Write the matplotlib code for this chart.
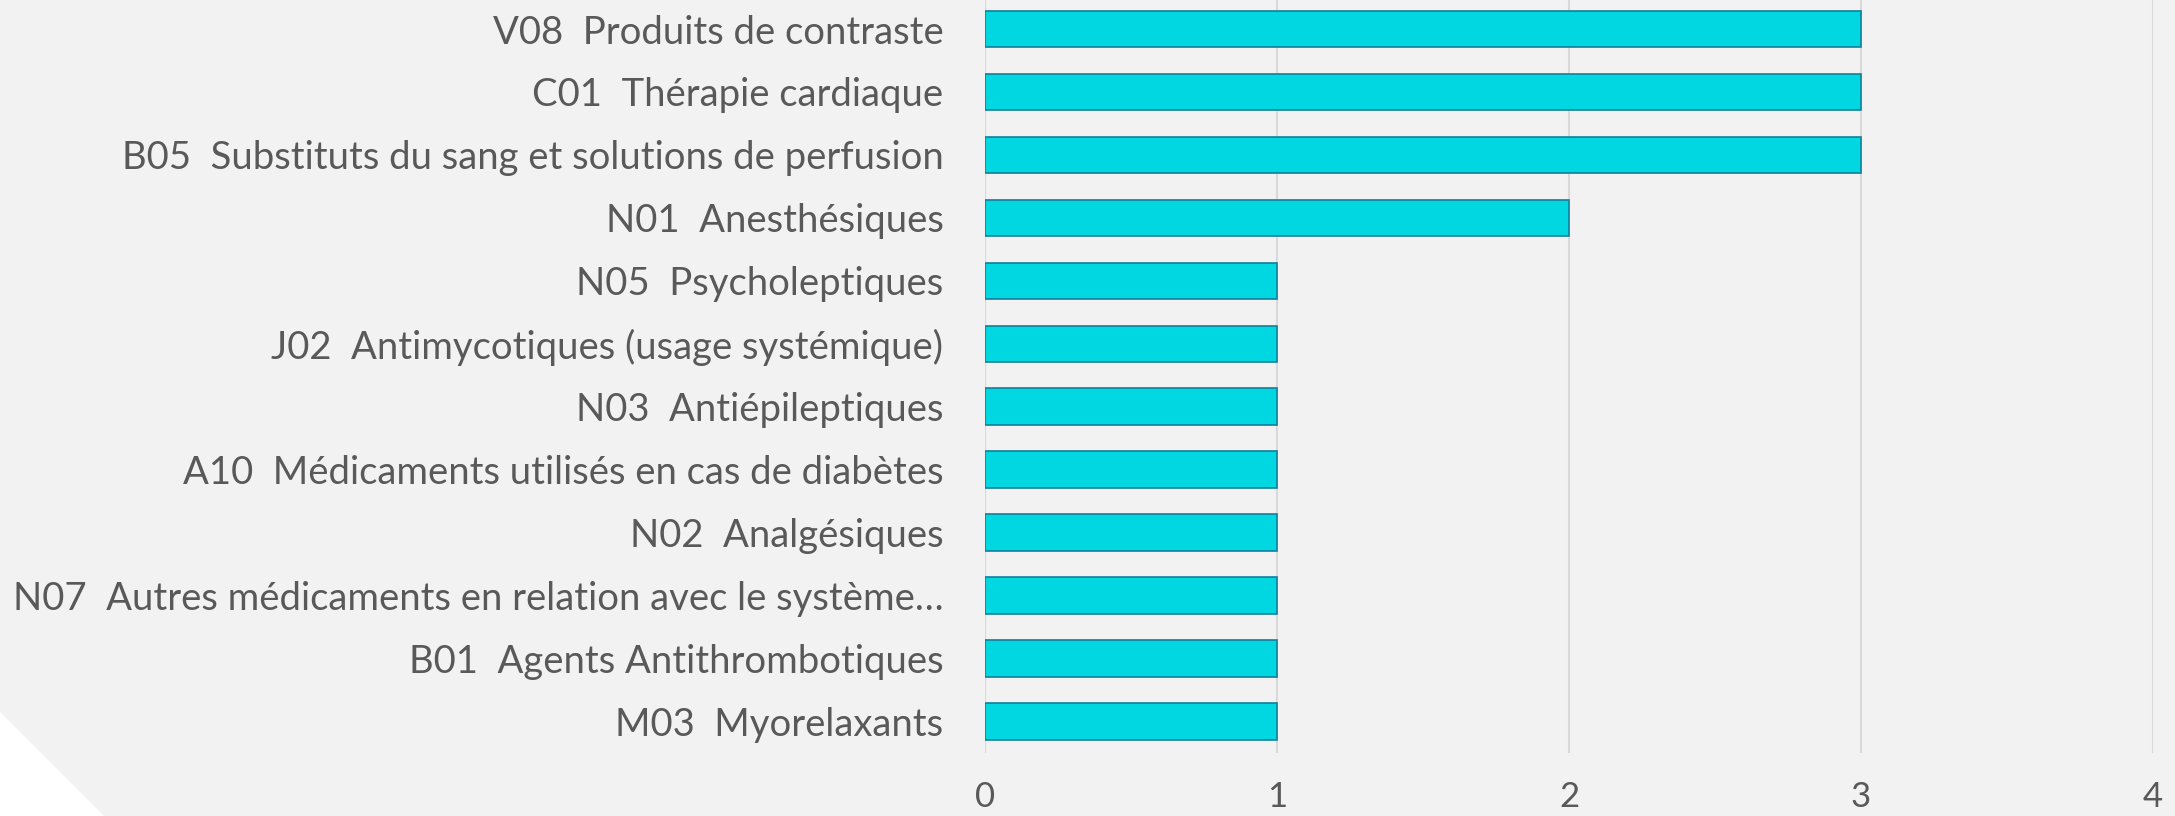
import matplotlib.pyplot as plt
from matplotlib.patches import Polygon

# ATC classes and counts (top to bottom as shown)
classes = [
    "V08  Produits de contraste",
    "C01  Thérapie cardiaque",
    "B05  Substituts du sang et solutions de perfusion",
    "N01  Anesthésiques",
    "N05  Psycholeptiques",
    "J02  Antimycotiques (usage systémique)",
    "N03  Antiépileptiques",
    "A10  Médicaments utilisés en cas de diabètes",
    "N02  Analgésiques",
    "N07  Autres médicaments en relation avec le système…",
    "B01  Agents Antithrombotiques",
    "M03  Myorelaxants",
]
counts = [3, 3, 3, 2, 1, 1, 1, 1, 1, 1, 1, 1]
x_ticks = [0, 1, 2, 3, 4]

plt.rcParams['font.family'] = ['Lato', 'DejaVu Sans']

fig = plt.figure(figsize=(21.75, 8.16), dpi=100, facecolor='#f2f2f2')

# white corner triangle, bottom left
fig.patches.append(Polygon([(0, 0), (0, 0.1275), (0.0478, 0)], closed=True,
                           transform=fig.transFigure, facecolor='white',
                           edgecolor='none', zorder=0))

ax = fig.add_axes([0.4529, 0.0772, 0.537, 0.9258])
ax.set_facecolor('none')

pos = list(range(len(classes)))
ax.barh(pos, counts, height=0.58, color='#00d7e1', edgecolor='#117f9b',
        linewidth=1.2, zorder=3)

ax.set_ylim(len(classes) - 0.5, -0.5)
ax.set_xlim(0, 4)
ax.set_xticks(x_ticks)
ax.set_yticks(pos)
ax.set_yticklabels(classes)

ax.grid(axis='x', color='#d9d9d9', linewidth=1.5, zorder=0)
ax.set_axisbelow(True)
for s in ax.spines.values():
    s.set_visible(False)

ax.tick_params(axis='both', length=0, labelcolor='#595959')
ax.tick_params(axis='y', pad=30, labelsize=27.5)
ax.tick_params(axis='x', pad=20, labelsize=25)

fig.savefig('out.png', dpi=100, facecolor=fig.get_facecolor())
